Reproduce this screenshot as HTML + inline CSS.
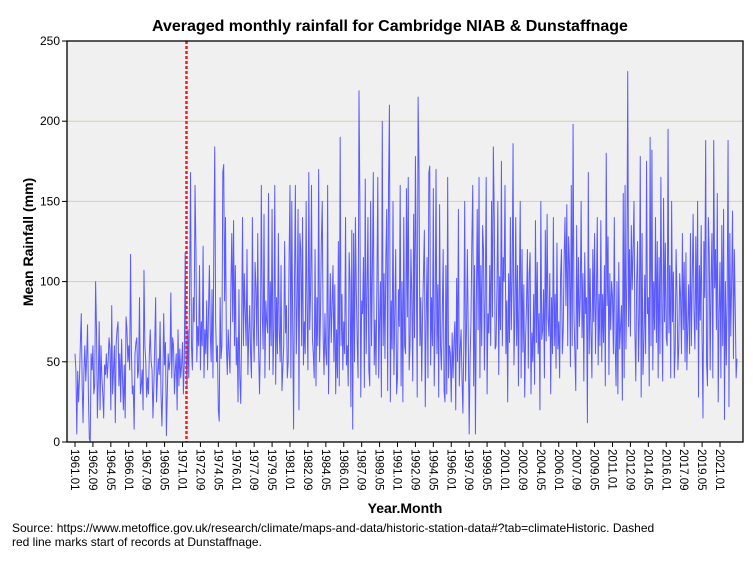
<!DOCTYPE html>
<html><head><meta charset="utf-8"><style>
body{margin:0;background:#fff;font-family:"Liberation Sans",sans-serif;}
svg{display:block}
</style></head><body>
<svg id="c" width="753" height="563" xmlns="http://www.w3.org/2000/svg">
<text x="390" y="31" text-anchor="middle" font-size="16" font-weight="bold">Averaged monthly rainfall for Cambridge NIAB &amp; Dunstaffnage</text>
<rect x="67" y="41" width="676" height="401" fill="#f0f0f0"/>
<g id="grid"></g>
<g id="series"></g>
<line id="redline" stroke="#ee2222" stroke-width="2.5" stroke-dasharray="3,2"/>
<rect x="67" y="41" width="676" height="401" fill="none" stroke="#000" stroke-width="1.3"/>
<g id="axes"></g>
<text transform="translate(33,242) rotate(-90)" text-anchor="middle" font-size="14" font-weight="bold">Mean Rainfall (mm)</text>
<text x="405" y="513" text-anchor="middle" font-size="14" font-weight="bold">Year.Month</text>
<text x="12" y="532" font-size="12">Source: https://www.metoffice.gov.uk/research/climate/maps-and-data/historic-station-data#?tab=climateHistoric. Dashed</text>
<text x="12" y="546" font-size="12">red line marks start of records at Dunstaffnage.</text>
</svg>
<script>
const startYear = 1961;
const yTicks = [0,50,100,150,200,250];
const dunstaffnageStartIndex = 125;
const rainfall = [
55,45,5,44,25,40,62,80,35,12,45,60,
38,52,73,28,2,0,55,45,60,30,35,100,
70,15,38,75,20,60,40,30,15,48,42,55,
40,50,65,58,20,85,30,45,60,12,62,70,
75,35,55,25,64,40,20,48,15,78,70,50,
60,45,117,55,30,35,8,55,62,65,40,45,
90,30,35,45,20,107,60,50,28,40,30,55,
70,50,45,15,35,60,90,25,40,52,42,75,
30,10,35,80,48,62,4,30,55,45,50,93,
40,65,60,30,45,55,20,70,35,58,40,48,
62,30,50,118,55,35,70,40,100,168,60,45,
90,75,160,120,50,72,60,110,45,75,60,122,
40,70,55,88,45,80,110,68,50,95,40,125,
184,75,50,60,20,13,90,52,60,168,173,88,
140,60,42,70,55,43,96,130,75,138,60,110,
48,65,25,95,40,24,70,140,60,105,80,60,
120,42,68,85,55,40,140,72,50,112,96,60,
130,55,30,65,160,80,58,142,40,88,75,68,
155,45,100,60,145,42,70,160,36,90,55,130,
70,50,110,32,46,60,125,68,85,40,50,115,
160,40,150,72,8,100,160,55,85,145,20,130,
120,60,140,48,75,55,150,82,45,168,70,95,
160,65,55,40,120,35,90,60,170,50,78,125,
150,66,42,80,55,48,160,30,70,105,62,85,
110,50,98,30,70,40,125,35,190,60,92,45,
75,55,140,48,60,35,118,100,22,132,8,130,
50,140,95,62,40,219,150,28,88,80,115,34,
164,55,92,140,45,35,150,60,110,168,48,76,
42,98,165,40,75,100,28,200,60,105,52,115,
145,32,160,210,25,88,58,150,42,80,120,30,
40,95,72,160,35,100,25,140,60,55,158,78,
165,45,60,120,90,38,142,65,178,110,28,215,
170,60,90,38,80,105,132,22,76,115,40,168,
172,48,90,60,158,35,75,170,55,98,28,148,
60,45,80,120,32,25,110,30,165,40,60,55,
25,68,40,62,75,20,102,50,145,35,58,70,
40,18,60,150,38,70,120,65,5,50,75,125,
160,35,110,5,85,145,70,165,40,110,60,135,
120,45,95,165,30,80,68,110,60,150,78,184,
140,58,60,95,150,42,103,70,175,60,115,100,
160,55,88,25,105,62,140,70,102,186,48,77,
140,60,110,35,93,150,40,120,56,98,28,65,
85,120,46,105,118,30,68,50,92,36,138,62,
112,55,80,20,150,64,70,95,40,132,63,142,
78,66,105,30,90,55,140,60,92,46,124,58,
75,40,102,120,55,70,115,140,85,148,60,128,
110,47,160,60,198,80,55,32,135,58,115,72,
90,150,65,105,38,118,80,90,12,168,55,108,
68,40,120,75,130,55,90,140,48,92,60,138,
50,92,62,110,35,180,85,128,42,105,70,100,
90,55,140,60,35,100,30,112,58,72,85,26,
155,40,160,58,100,231,72,120,66,135,95,120,
150,70,38,100,125,50,80,178,28,130,42,62,
104,55,175,80,90,35,190,60,182,45,100,70,
140,62,125,40,115,55,165,84,38,152,75,124,
65,60,195,68,110,40,150,75,106,40,58,120,
92,45,60,105,90,55,130,70,112,50,118,45,
72,98,55,130,60,100,142,80,58,128,70,150,
28,110,76,135,65,15,125,90,188,50,35,140,
118,45,100,130,40,188,96,120,70,155,25,80,
112,40,135,60,145,14,100,48,90,188,22,130,
66,100,144,52,120,85,40,52
];
const NS="http://www.w3.org/2000/svg";
const X0=75, PXM=645/720, Y0=442, Y1=41, YMAX=250;
const xs=i=>X0+i*PXM;
const ys=v=>Y0-(v/YMAX)*(Y0-Y1);
function mk(tag,attrs,parent){const e=document.createElementNS(NS,tag);for(const k in attrs)e.setAttribute(k,attrs[k]);parent.appendChild(e);return e;}
const grid=document.getElementById('grid'), axes=document.getElementById('axes'), series=document.getElementById('series');
yTicks.forEach(v=>{
  if(v>0&&v<250){const g=mk('line',{x1:67,x2:743,y1:ys(v),y2:ys(v),stroke:'#d6d0aa','stroke-width':1},grid);
  
  }
  mk('line',{x1:62,x2:67,y1:ys(v),y2:ys(v),stroke:'#000'},axes);
  const t=mk('text',{x:60,y:ys(v)+4,'text-anchor':'end','font-size':12},axes);
  t.textContent=v;
  
  
});
for(let i=0;i<rainfall.length-10;i+=20){
  const x=xs(i);
  mk('line',{x1:x,x2:x,y1:442,y2:447,stroke:'#000'},axes);
  const y=startYear+Math.floor(i/12), m=i%12+1;
  const t=mk('text',{transform:`translate(${x-4},449) rotate(90)`,'font-size':11.5},axes);
  t.textContent=y+'.'+(m<10?'0'+m:m);
  
  
}
const pts=rainfall.map((v,i)=>xs(i).toFixed(2)+','+ys(v).toFixed(2)).join(' ');
const pl=mk('polyline',{points:pts,fill:'none',stroke:'#5a5aff','stroke-width':1,'stroke-linejoin':'round'},series);


const rl=document.getElementById('redline');
const rx=xs(dunstaffnageStartIndex)-0.5;
rl.setAttribute('x1',rx);rl.setAttribute('x2',rx);rl.setAttribute('y1',41);rl.setAttribute('y2',442);
</script>
</body></html>
